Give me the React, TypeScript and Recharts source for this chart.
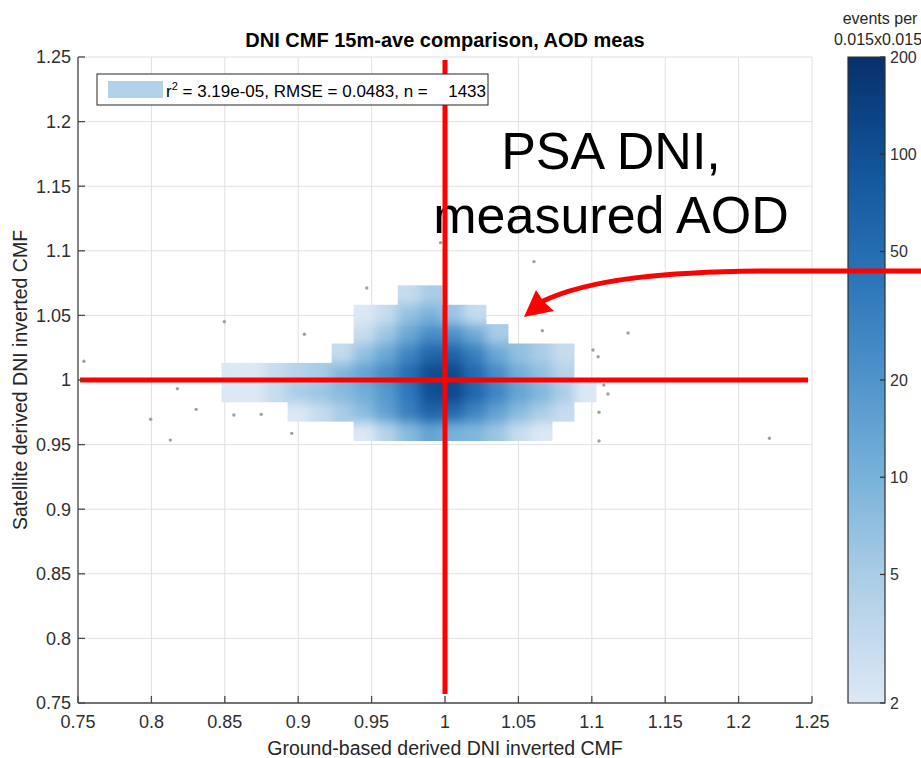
import React from 'react';
import * as RC from 'recharts';

const R: any = RC;
const { ScatterChart, Scatter, XAxis, YAxis, CartesianGrid, ReferenceArea, ReferenceLine, Customized } = R;

const FONT = '"Liberation Sans", Arial, Helvetica, sans-serif';

// ---------- data ----------
const X_DOMAIN = [0.75, 1.25];
const Y_DOMAIN = [0.75, 1.25];
const X_TICKS = [0.75, 0.8, 0.85, 0.9, 0.95, 1, 1.05, 1.1, 1.15, 1.2, 1.25];
const X_TICK_LABELS = ['0.75', '0.8', '0.85', '0.9', '0.95', '1', '1.05', '1.1', '1.15', '1.2', '1.25'];
const Y_TICKS = [0.75, 0.8, 0.85, 0.9, 0.95, 1, 1.05, 1.1, 1.15, 1.2, 1.25];
const Y_TICK_LABELS = ['0.75', '0.8', '0.85', '0.9', '0.95', '1', '1.05', '1.1', '1.15', '1.2', '1.25'];

// 2-D histogram bins (0.015 x 0.015)
const BIN_X_EDGES = [0.848, 0.863, 0.878, 0.893, 0.908, 0.923, 0.938, 0.953, 0.968, 0.983, 0.998, 1.013, 1.028, 1.043, 1.058, 1.073, 1.088, 1.103];
const BIN_Y_EDGES = [0.953, 0.968, 0.983, 0.998, 1.013, 1.028, 1.043, 1.058, 1.073];

// events per bin, one array per satellite-CMF row (bottom to top), one value per ground-CMF column
const COUNTS_Y0953 = [0, 0, 0, 0, 0, 0, 2, 4, 8, 14, 10, 9, 6, 3, 2, 0, 0];
const COUNTS_Y0968 = [0, 0, 0, 2, 3, 5, 8, 15, 32, 60, 55, 28, 15, 8, 5, 3, 0];
const COUNTS_Y0983 = [2, 2, 3, 5, 6, 8, 11, 18, 38, 100, 120, 58, 28, 14, 9, 5, 2];
const COUNTS_Y0998 = [2, 2, 3, 4, 5, 9, 14, 24, 48, 110, 115, 52, 24, 11, 7, 4, 0];
const COUNTS_Y1013 = [0, 0, 0, 0, 0, 3, 7, 13, 28, 58, 62, 32, 13, 7, 5, 3, 0];
const COUNTS_Y1028 = [0, 0, 0, 0, 0, 0, 3, 6, 13, 24, 22, 12, 5, 0, 0, 0, 0];
const COUNTS_Y1043 = [0, 0, 0, 0, 0, 0, 2, 3, 7, 10, 6, 3, 0, 0, 0, 0, 0];
const COUNTS_Y1058 = [0, 0, 0, 0, 0, 0, 0, 0, 3, 5, 0, 0, 0, 0, 0, 0, 0];
const COUNT_ROWS = [COUNTS_Y0953, COUNTS_Y0968, COUNTS_Y0983, COUNTS_Y0998, COUNTS_Y1013, COUNTS_Y1028, COUNTS_Y1043, COUNTS_Y1058];

// single events outside the populated bins
const OUTLIER_X = [0.754, 0.8177, 0.8305, 0.7995, 0.8129, 0.8562, 0.8748, 0.8956, 1.1008, 1.1043, 1.1082, 1.111, 1.1049, 1.1049, 1.221, 0.9467, 0.8497, 0.9042, 1.0663, 0.997, 1.0606, 1.1247];
const OUTLIER_Y = [1.0145, 0.9933, 0.9773, 0.9696, 0.9535, 0.9729, 0.9734, 0.9587, 1.0232, 1.018, 0.9961, 0.9892, 0.975, 0.9528, 0.9549, 1.0712, 1.0451, 1.0354, 1.0382, 1.1063, 1.0916, 1.0364];

// colour bar (log scale)
const CB_DOMAIN = [2, 200];
const CB_TICKS = [2, 5, 10, 20, 50, 100, 200];
const CB_TICK_LABELS = ['2', '5', '10', '20', '50', '100', '200'];
const CMAP_POS = [0, 0.2, 0.35, 0.5, 0.65, 0.8, 0.9, 1];
const CMAP_COLORS = ['#dce8f5', '#aacce6', '#78b2da', '#5094ca', '#2d76b9', '#165aa0', '#0c4687', '#08306b'];

const TITLE = 'DNI CMF 15m-ave comparison, AOD meas';
const X_LABEL = 'Ground-based derived DNI inverted CMF';
const Y_LABEL = 'Satellite derived DNI inverted CMF';
const CB_TITLE = ['events per', '0.015x0.015'];
const LEGEND_TEXT = ' = 3.19e-05, RMSE = 0.0483, n =';
const LEGEND_N = '1433';
const NOTE_LINES = ['PSA DNI,', 'measured AOD'];

// ---------- helpers ----------
const hex = (h: string) => [1, 3, 5].map((i) => parseInt(h.slice(i, i + 2), 16));
function colorFor(v: number) {
  const lo = Math.log10(CB_DOMAIN[0]);
  const hi = Math.log10(CB_DOMAIN[1]);
  let t = (Math.log10(Math.max(v, 1e-9)) - lo) / (hi - lo);
  t = Math.max(0, Math.min(1, t));
  let i = 0;
  while (i < CMAP_POS.length - 2 && t > CMAP_POS[i + 1]) i++;
  const f = (t - CMAP_POS[i]) / (CMAP_POS[i + 1] - CMAP_POS[i]);
  const a = hex(CMAP_COLORS[i]);
  const b = hex(CMAP_COLORS[i + 1]);
  const c = a.map((x, k) => Math.round(x + (b[k] - x) * f));
  return `rgb(${c[0]},${c[1]},${c[2]})`;
}

const CELLS = COUNT_ROWS.flatMap((row, r) =>
  row
    .map((v, c) => ({ x0: BIN_X_EDGES[c], x1: BIN_X_EDGES[c + 1], y0: BIN_Y_EDGES[r], y1: BIN_Y_EDGES[r + 1], v }))
    .filter((c) => c.v > 0)
);
const OUTLIERS = OUTLIER_X.map((x, i) => ({ x, y: OUTLIER_Y[i] }));

const usePlotAreaHook = R.usePlotArea;
const useOffsetHook = R.useOffset;
const useWHook = R.useChartWidth;
const useHHook = R.useChartHeight;
const HAS_HOOKS =
  typeof usePlotAreaHook === 'function' ||
  (typeof useOffsetHook === 'function' && typeof useWHook === 'function' && typeof useHHook === 'function');

function usePlotRect(): any {
  if (typeof usePlotAreaHook === 'function') {
    const p = usePlotAreaHook();
    return p ? { x: p.x, y: p.y, width: p.width, height: p.height } : null;
  }
  if (typeof useOffsetHook === 'function' && typeof useWHook === 'function' && typeof useHHook === 'function') {
    const o = useOffsetHook();
    const w = useWHook();
    const h = useHHook();
    return o && w && h ? { x: o.left, y: o.top, width: w - o.left - o.right, height: h - o.top - o.bottom } : null;
  }
  return null;
}

function HeatLayer() {
  const plot = usePlotRect();
  if (!plot) return null;
  const sx = (v: number) => plot.x + ((v - X_DOMAIN[0]) / (X_DOMAIN[1] - X_DOMAIN[0])) * plot.width;
  const sy = (v: number) => plot.y + ((Y_DOMAIN[1] - v) / (Y_DOMAIN[1] - Y_DOMAIN[0])) * plot.height;
  const rects = CELLS.map((c) => ({
    x: sx(c.x0),
    y: sy(c.y1),
    w: sx(c.x1) - sx(c.x0),
    h: sy(c.y0) - sy(c.y1),
    fill: colorFor(c.v),
  }));
  return (
    <g>
      <defs>
        <filter
          id="heatBlur"
          filterUnits="userSpaceOnUse"
          x={plot.x}
          y={plot.y}
          width={plot.width}
          height={plot.height}
          colorInterpolationFilters="sRGB"
        >
          <feGaussianBlur stdDeviation={6} />
          <feComponentTransfer>
            <feFuncA type="table" tableValues="0 1 1 1 1 1 1 1 1 1 1 1" />
          </feComponentTransfer>
        </filter>
        <clipPath id="heatClip">
          {rects.map((r, i) => (
            <rect key={i} x={r.x - 0.3} y={r.y - 0.3} width={r.w + 0.6} height={r.h + 0.6} />
          ))}
        </clipPath>
      </defs>
      <g clipPath="url(#heatClip)">
        <g filter="url(#heatBlur)">
          {rects.map((r, i) => (
            <rect key={i} x={r.x - 0.5} y={r.y - 0.5} width={r.w + 1} height={r.h + 1} fill={r.fill} />
          ))}
        </g>
      </g>
    </g>
  );
}

function NoteText() {
  return (
    <g fontFamily={FONT} fill="#000" fontSize={52} textAnchor="middle">
      <text x={611} y={169}>{NOTE_LINES[0]}</text>
      <text x={611} y={233}>{NOTE_LINES[1]}</text>
    </g>
  );
}

const AX = '#4a4a4a';
const tickStyle = { fill: '#303030', fontSize: 18, fontFamily: FONT };
const fmt = (ticks: number[], labels: string[]) => (v: number) => {
  const i = ticks.findIndex((t) => Math.abs(t - v) < 1e-9);
  return i >= 0 ? labels[i] : String(v);
};

export default function App() {
  return (
    <div style={{ position: 'absolute', left: 0, top: 0, width: 921, height: 758, background: '#fff', overflow: 'hidden' }}>
      <svg width={0} height={0} style={{ position: 'absolute' }}>
        <defs>
          <linearGradient id="cbGrad" x1="0" y1="1" x2="0" y2="0">
            {CMAP_POS.map((p, i) => (
              <stop key={i} offset={p} stopColor={CMAP_COLORS[i]} />
            ))}
          </linearGradient>
        </defs>
      </svg>

      <div style={{ position: 'absolute', left: 0, top: 0 }}>
        <ScatterChart width={921} height={758} margin={{ top: 57, right: 109, bottom: 10, left: 8 }}>
          <CartesianGrid stroke="#e0e0e0" strokeWidth={1} />
          <XAxis
            type="number"
            dataKey="x"
            domain={X_DOMAIN}
            ticks={X_TICKS}
            interval={0}
            allowDataOverflow
            height={45}
            tickSize={-7}
            tickMargin={19}
            tickFormatter={fmt(X_TICKS, X_TICK_LABELS)}
            axisLine={{ stroke: AX, strokeWidth: 1.3 }}
            tickLine={{ stroke: AX, strokeWidth: 1.3 }}
            tick={tickStyle}
          />
          <XAxis
            xAxisId="top"
            orientation="top"
            type="number"
            domain={X_DOMAIN}
            ticks={X_TICKS}
            interval={0}
            allowDataOverflow
            height={0}
            tickSize={-6}
            tick={false}
            axisLine={{ stroke: AX, strokeWidth: 1.3 }}
            tickLine={{ stroke: AX, strokeWidth: 1.3 }}
          />
          <YAxis
            type="number"
            dataKey="y"
            domain={Y_DOMAIN}
            ticks={Y_TICKS}
            interval={0}
            allowDataOverflow
            width={70}
            tickSize={-7}
            tickMargin={14}
            tickFormatter={fmt(Y_TICKS, Y_TICK_LABELS)}
            axisLine={{ stroke: AX, strokeWidth: 1.3 }}
            tickLine={{ stroke: AX, strokeWidth: 1.3 }}
            tick={tickStyle}
          />
          <YAxis
            yAxisId="right"
            orientation="right"
            type="number"
            domain={Y_DOMAIN}
            ticks={Y_TICKS}
            interval={0}
            allowDataOverflow
            width={0}
            tickSize={-6}
            tick={false}
            axisLine={{ stroke: AX, strokeWidth: 1.3 }}
            tickLine={{ stroke: AX, strokeWidth: 1.3 }}
          />
          {HAS_HOOKS ? (
            <Customized component={<HeatLayer />} />
          ) : (
            CELLS.map((c, i) => (
              <ReferenceArea key={i} x1={c.x0} x2={c.x1} y1={c.y0} y2={c.y1} fill={colorFor(c.v)} fillOpacity={1} stroke="none" />
            ))
          )}
          <Customized component={<NoteText />} />
          <Scatter
            data={OUTLIERS}
            isAnimationActive={false}
            shape={(p: any) => <circle cx={p.cx} cy={p.cy} r={1.7} fill="#93a79d" />}
          />
          <ReferenceLine segment={[{ x: 1, y: 1.2477 }, { x: 1, y: 0.757 }]} stroke="#ff0000" strokeWidth={5} />
          <ReferenceLine segment={[{ x: 0.7514, y: 1 }, { x: 1.2473, y: 1 }]} stroke="#ff0000" strokeWidth={5} />
        </ScatterChart>
      </div>

      <div style={{ position: 'absolute', left: 840, top: 0 }}>
        <ScatterChart width={81} height={758} margin={{ top: 57, right: 0, bottom: 55, left: 8 }}>
          <XAxis type="number" dataKey="x" domain={[0, 1]} hide />
          <YAxis
            type="number"
            dataKey="y"
            orientation="right"
            scale="log"
            domain={CB_DOMAIN}
            ticks={CB_TICKS}
            interval={0}
            allowDataOverflow
            width={36}
            tickSize={-5}
            tickMargin={10}
            axisLine={false}
            tickFormatter={fmt(CB_TICKS, CB_TICK_LABELS)}
            tickLine={{ stroke: '#303030', strokeWidth: 1.2 }}
            tick={{ fill: '#303030', fontSize: 16, fontFamily: FONT }}
          />
          <ReferenceArea x1={0} x2={1} y1={CB_DOMAIN[0]} y2={CB_DOMAIN[1]} fill="url(#cbGrad)" fillOpacity={1} stroke="#303030" strokeWidth={1.2} />
          <Scatter data={CB_TICKS.map((v) => ({ x: 0.5, y: v }))} isAnimationActive={false} shape={() => <g />} />
        </ScatterChart>
      </div>

      <svg width={921} height={758} style={{ position: 'absolute', left: 0, top: 0, pointerEvents: 'none' }} fontFamily={FONT}>
        <text x={445} y={47} textAnchor="middle" fontWeight="bold" fontSize={20} fill="#000">{TITLE}</text>
        <text x={445} y={755} textAnchor="middle" fontSize={19.5} fill="#262626">{X_LABEL}</text>
        <text transform="translate(27,380) rotate(-90)" textAnchor="middle" fontSize={19.5} fill="#262626">{Y_LABEL}</text>
        <text x={880} y={24} textAnchor="middle" fontSize={16} fill="#262626">{CB_TITLE[0]}</text>
        <text x={878} y={45} textAnchor="middle" fontSize={16} fill="#262626">{CB_TITLE[1]}</text>

        <rect x={97} y={74} width={391} height={31} fill="#fff" stroke="#262626" strokeWidth={1} />
        <rect x={108} y={81} width={55} height={17} fill="#b3d1e8" />
        <text x={166} y={97} fontSize={17} fill="#000">
          r<tspan dy={-7} fontSize={11}>2</tspan>
          <tspan dy={7}>{LEGEND_TEXT}</tspan>
        </text>
        <text x={486} y={97} fontSize={17} textAnchor="end" fill="#000">{LEGEND_N}</text>

        <path d="M 921 271 L 760 271 C 670 272, 590 278, 541 302" fill="none" stroke="#ff0000" strokeWidth={5} />
        <polygon points="524,317 536,290 544,302 554,311" fill="#ff0000" />
      </svg>
    </div>
  );
}
